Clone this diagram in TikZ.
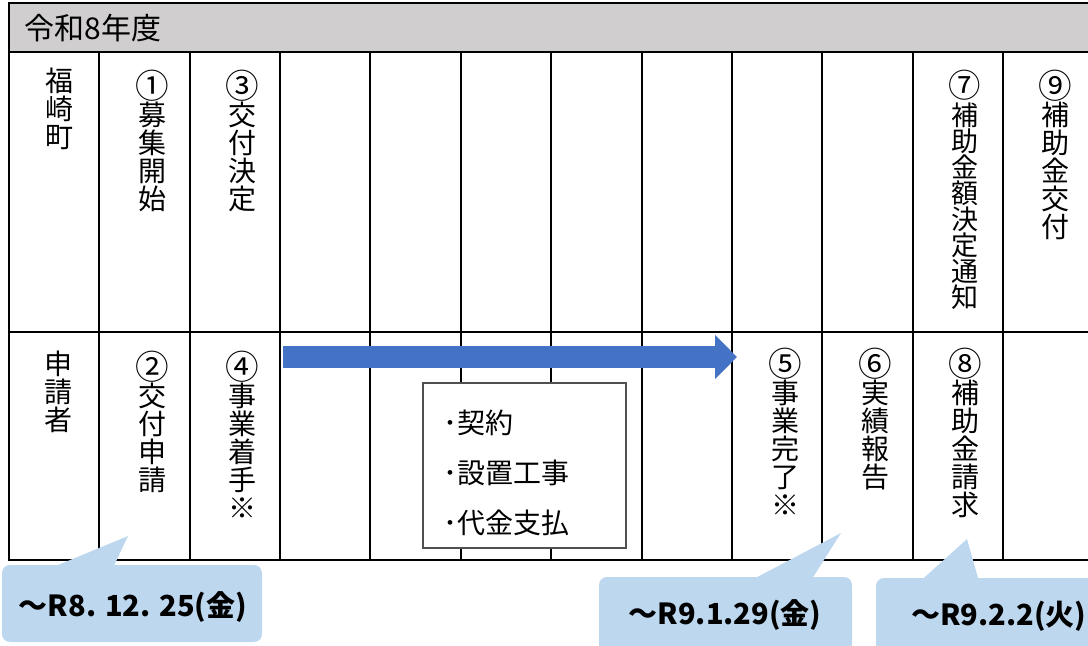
\documentclass[tikz,border=0pt]{standalone}
\usepackage{fontspec}
\setmainfont{Noto Sans CJK JP}
\usetikzlibrary{arrows.meta,calc,positioning}

\definecolor{hdrgray}{RGB}{208,206,206}
\definecolor{flowblue}{RGB}{68,114,196}
\definecolor{notefill}{RGB}{189,215,238}
\definecolor{boxline}{RGB}{80,80,80}

\newcommand{\maru}[1]{\raisebox{-0.1ex}{\scalebox{1.2}{#1}}}

\begin{document}
\begin{tikzpicture}[x=0.5pt, y=-0.5pt, line join=miter,
	grid/.style={line width=1pt, line cap=rect},
	tate/.style={anchor=north, inner sep=0pt, align=center, font=\fontsize{14}{14}\selectfont},
	duebox/.style={fill=notefill, rounded corners=4pt, minimum height=38.5pt, inner sep=0pt},
	duetext/.style={inner sep=0pt, font=\fontsize{14.5}{16}\selectfont\bfseries}]
	
	\useasboundingbox (0,0) rectangle (1088,645);
	\clip (0,0) rectangle (1088,645);
	
	% header and table
	\filldraw[grid, fill=hdrgray, draw=black] (9,3) rectangle (1110,52);
	\node[anchor=west, inner sep=0pt, font=\fontsize{15}{17}\selectfont] (year) at (24,28) {令和8年度};
	
	\draw[grid] (9,52) -- (9,560) -- (1110,560);
	\draw[grid] (9,332) -- (1110,332);
	\foreach \k in {1,...,11}
		\draw[grid] (9+90.36*\k,52) -- ++(0,508);
	
	% work box
	\node[draw=boxline, fill=white, line width=0.6pt, minimum width=101.5pt, minimum height=82.5pt, inner sep=0pt] (workbox) at (524.5,465.5) {};
	\node[anchor=west, align=left, inner sep=0pt, font=\fontsize{14}{25}\selectfont] (worklist) at (443,473) {･契約\\･設置工事\\･代金支払};
	
	% flow arrow
	\coordinate (flowstart) at (283,357);
	\coordinate (flowend) at (737,357);
	\draw[flowblue, line width=11pt, line cap=butt, -{Triangle[length=11pt,width=21.5pt]}] (flowstart) -- (flowend);
	
	% upper row
	\node[tate] (town) at (60,68) {福\\崎\\町};
	\node[tate] (call) at (152,70) {\maru{①}\\募\\集\\開\\始};
	\node[tate] (grant) at (242,70) {\maru{③}\\交\\付\\決\\定};
	\node[tate, font=\fontsize{13.5}{13}\selectfont] (notice) at (965,70) {\maru{⑦}\\補\\助\\金\\額\\決\\定\\通\\知};
	\node[tate] (payout) at (1055,70) {\maru{⑨}\\補\\助\\金\\交\\付};
	
	% lower row
	\node[tate] (applicant) at (58,351) {申\\請\\者};
	\node[tate] (apply) at (152,351) {\maru{②}\\交\\付\\申\\請};
	\node[tate] (start) at (242,351) {\maru{④}\\事\\業\\着\\手\\※};
	\node[tate] (finish) at (785,348) {\maru{⑤}\\事\\業\\完\\了\\※};
	\node[tate] (report) at (875,348) {\maru{⑥}\\実\\績\\報\\告};
	\node[tate] (claim) at (965,348) {\maru{⑧}\\補\\助\\金\\請\\求};
	
	% deadlines
	\node[duebox, minimum width=130pt] (due1) at (132,603.5) {};
	\fill[notefill] ($(due1.north west)+(43,6)$) -- (128,536) -- ($(due1.north west)+(110,6)$) -- cycle;
	\node[duetext] (due1text) at (133,607) {～R8. 12. 25(金)};
	
	\node[duebox, minimum width=126.5pt] (due2) at (725.5,615.5) {};
	\fill[notefill] ($(due2.north west)+(148,6)$) -- (841,533) -- ($(due2.north west)+(211,6)$) -- cycle;
	\node[duetext] (due2text) at (725,615) {～R9.1.29(金)};
	
	\node[duebox, minimum width=126.5pt] (due3) at (1002.5,616.5) {};
	\fill[notefill] ($(due3.north west)+(42,6)$) -- (967,539) -- ($(due3.north west)+(104,6)$) -- cycle;
	\node[duetext, anchor=west] (due3text) at (911,616) {～R9.2.2(火)};
	
\end{tikzpicture}
\end{document}
